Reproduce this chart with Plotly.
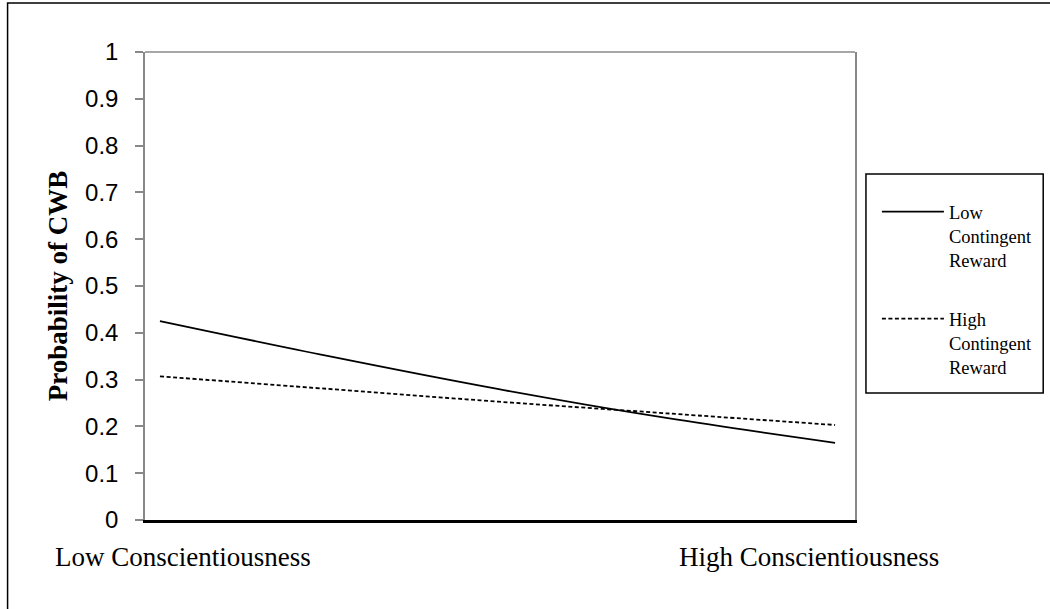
import plotly.graph_objects as go

# Data
x_pos = [0, 0.25, 0.5, 0.75, 1]
low_cr = [0.425, 0.350, 0.280, 0.218, 0.165]
high_cr = [0.307, 0.280, 0.253, 0.228, 0.203]
x_labels = ["Low Conscientiousness", "High Conscientiousness"]
x_label_paper = [0.0533, 0.935]
series_names = ["Low<br>Contingent<br>Reward", "High<br>Contingent<br>Reward"]

W, H = 1050, 609
L, R, T, B = 145, 192, 52, 89
pw, ph = W - L - R, H - T - B


def px(x):
    return (x - L) / pw


def py(y):
    return (H - B - y) / ph


fig = go.Figure()
fig.add_trace(go.Scatter(x=x_pos, y=low_cr, mode="lines", name=series_names[0],
                         line=dict(color="black", width=1.8, shape="spline"),
                         legendgroup="a"))
fig.add_trace(go.Scatter(x=x_pos, y=high_cr, mode="lines", name=series_names[1],
                         line=dict(color="black", width=1.8, dash="4px,2.5px",
                                   shape="spline"),
                         legendgroup="b"))

for lab, xp in zip(x_labels, x_label_paper):
    fig.add_annotation(x=xp, y=py(557), xref="paper", yref="paper", text=lab,
                       showarrow=False, xanchor="center", yanchor="middle",
                       font=dict(family="Liberation Serif", size=27, color="black"))

# outer frame (clipped at the right and bottom edges as in the reference)
fig.add_shape(type="rect", xref="paper", yref="paper",
              x0=px(7), x1=px(1070), y0=py(630), y1=py(3),
              line=dict(color="black", width=1.5), layer="below")
# legend box
fig.add_shape(type="rect", xref="paper", yref="paper",
              x0=px(869), x1=px(1047), y0=py(393), y1=py(174),
              line=dict(color="black", width=1.5), layer="below")
# top border of plot area
fig.add_shape(type="line", xref="paper", yref="paper", x0=0, x1=1, y0=1, y1=1,
              line=dict(color="#888888", width=1.5))

fig.update_layout(
    width=W, height=H,
    margin=dict(l=L, r=R, t=T, b=B),
    paper_bgcolor="white", plot_bgcolor="white",
    showlegend=True,
    legend=dict(x=px(880), y=py(193), xanchor="left", yanchor="top",
                borderwidth=0, bgcolor="rgba(0,0,0,0)",
                font=dict(family="Liberation Serif", size=18.5, color="black"),
                tracegroupgap=32, valign="top", itemwidth=62),
    xaxis=dict(range=[-15 / 678, 1 + 20 / 678], showticklabels=False, ticks="",
               showgrid=False, zeroline=False, showline=True, linecolor="black",
               linewidth=3),
    yaxis=dict(range=[0, 1], dtick=0.1, tick0=0, showgrid=False, zeroline=False,
               showline=True, linecolor="#888888", linewidth=1.5, mirror=True,
               ticks="outside", ticklen=8, tickcolor="#888888", tickwidth=1.5,
               ticklabelstandoff=12,
               tickfont=dict(family="Liberation Sans", size=24, color="black"),
               title=dict(text="<b>Probability of CWB</b>", standoff=10,
                          font=dict(family="Liberation Serif", size=27, color="black"))),
)

fig.write_html("out.html", config={"displayModeBar": False},
               post_script="document.body.style.margin='0';")
